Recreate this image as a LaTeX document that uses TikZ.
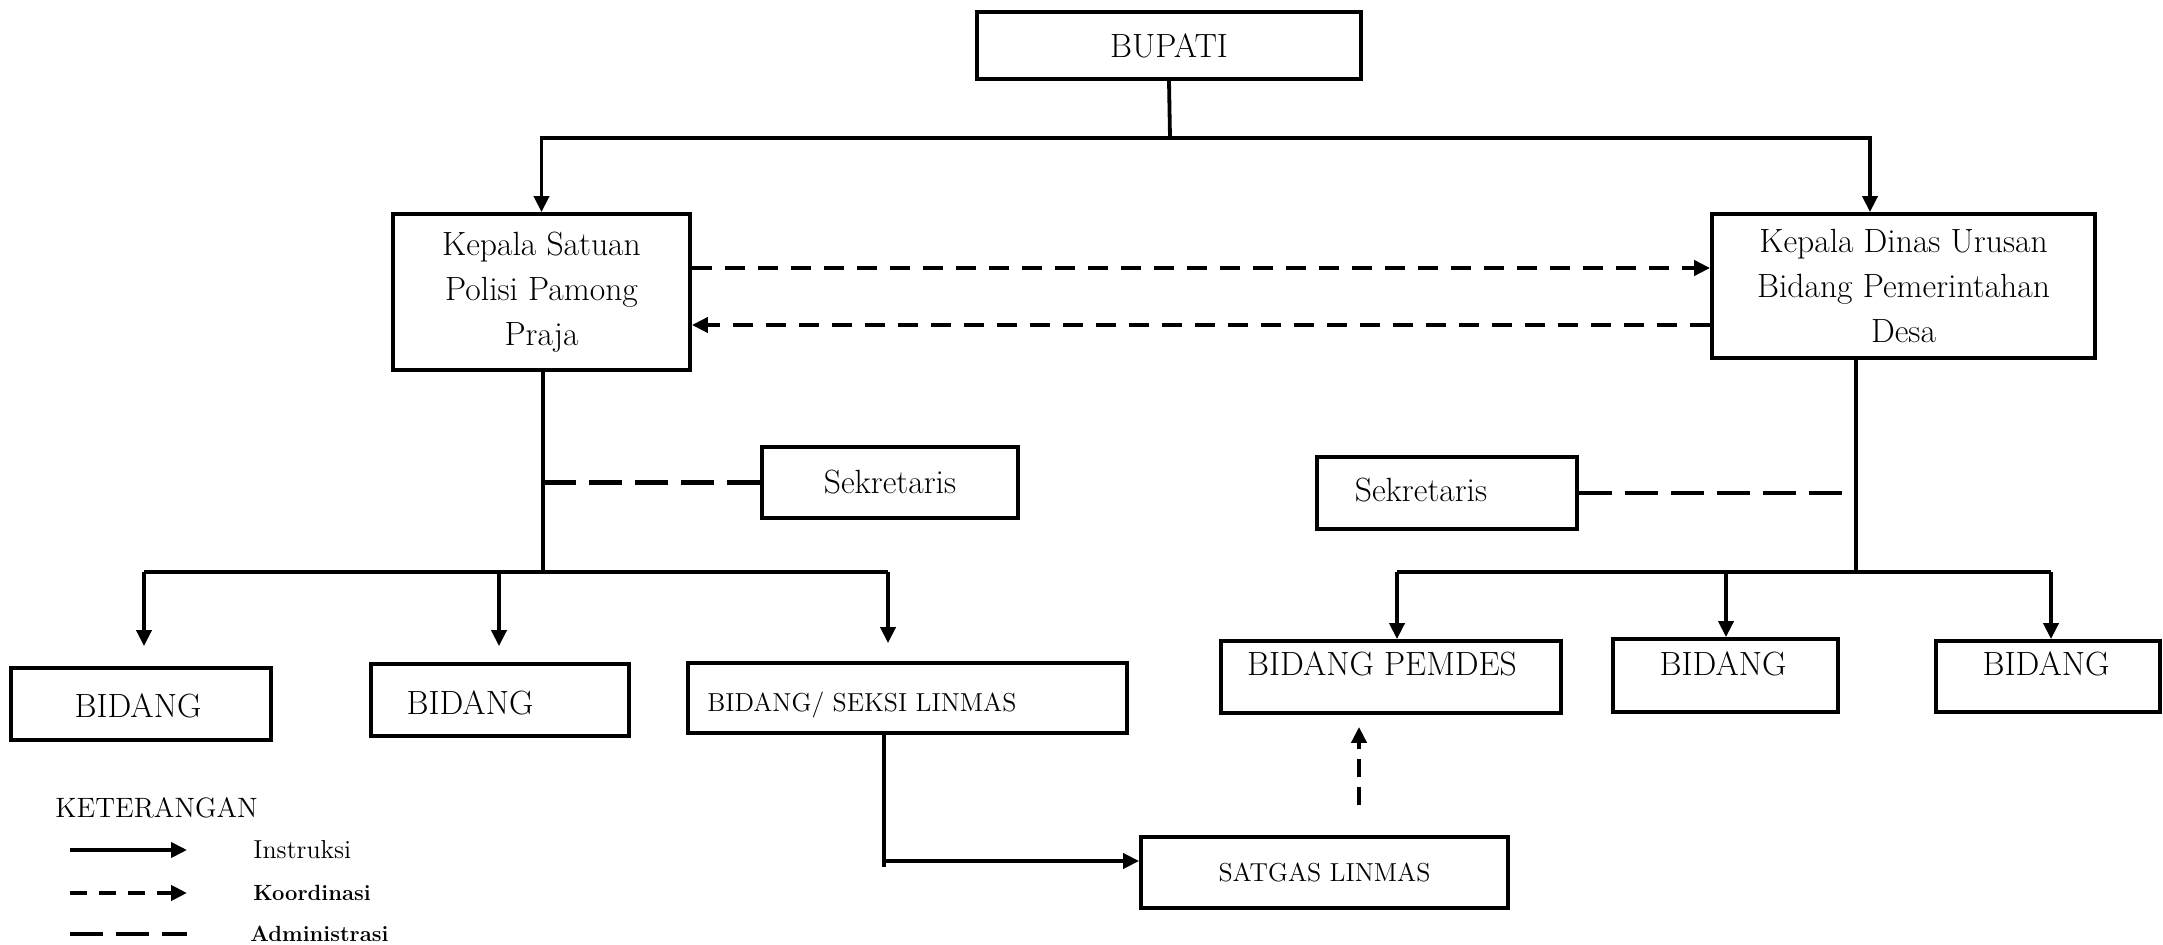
\documentclass[tikz,border=0pt]{standalone}
\usepackage{tikz}
\usetikzlibrary{positioning}
\usetikzlibrary{arrows.meta}

\tikzset{
  box/.style={draw, line width=1.9pt, inner sep=0pt},
  teks/.style={inner sep=0pt},
  big/.style={font=\fontsize{16.8}{22.5}\selectfont},
  small/.style={font=\fontsize{13}{15}\selectfont},
  solidline/.style={line width=1.9pt},
  instr/.style={line width=1.9pt, -{Triangle[length=8pt,width=7.5pt]}},
  koord/.style={line width=2.4pt, dash pattern=on 10pt off 6.5pt, -{Triangle[length=8pt,width=7.5pt]}},
  admin/.style={line width=2.2pt, dash pattern=on 16.5pt off 6.5pt},
}

\begin{document}
\begin{tikzpicture}[x=0.5pt, y=-0.5pt]
  \useasboundingbox (0,0) rectangle (2163,945);
  % top
  \node[box, big, minimum width=192pt, minimum height=33.5pt] (bupati) at (1169,45.5) {BUPATI};
  \node[box, big, align=center, minimum width=148.5pt, minimum height=78pt] (satpol) at (541.5,292) {Kepala Satuan\\Polisi Pamong\\Praja};
  \node[box, big, align=center, minimum width=191.5pt, minimum height=72pt] (dinas) at (1903.5,286) {Kepala Dinas Urusan\\Bidang Pemerintahan\\Desa};
  \coordinate (atas) at (1170,138);
  \coordinate (atasR) at (1870,138);
  \draw[solidline] (bupati.south) -- (atas);
  \draw[instr] (atas) -| (satpol.north);
  \draw[instr] (atas) -| (atasR |- dinas.north);
  \draw[koord] (satpol.east |- 0,268) -- (dinas.west |- 0,268);
  \draw[koord] (dinas.west |- 0,325) -- (satpol.east |- 0,325);

  % left branch
  \node[box, big, minimum width=128pt, minimum height=35.5pt] (sekL) at (890,482.5) {Sekretaris};
  \node[box, minimum width=130pt, minimum height=36pt] (bidL1) at (141,704) {};
  \node[box, minimum width=129pt, minimum height=36pt] (bidL2) at (500,700) {};
  \node[box, minimum width=219.5pt, minimum height=35pt] (linmas) at (907.5,698) {};
  \node[teks, big] (bidL1-t) at (138,706) {BIDANG};
  \node[teks, big] (bidL2-t) at (470,703) {BIDANG};
  \node[teks, small, anchor=west] (linmas-t) at (707,705) {BIDANG/ SEKSI LINMAS};
  \coordinate (kiri) at (543,572);
  \coordinate (kiri1) at (144,572);
  \coordinate (kiri2) at (499,572);
  \coordinate (kiri3) at (888,572);
  \draw[solidline] (satpol.south -| kiri) -- (kiri);
  \draw[admin] (kiri |- sekL.west) -- (sekL.west);
  \draw[solidline] (kiri1) -- (kiri3);
  \draw[instr, shorten >=10pt] (kiri1) -- (kiri1 |- bidL1.north);
  \draw[instr, shorten >=8pt] (kiri2) -- (kiri2 |- bidL2.north);
  \draw[instr, shorten >=9pt] (kiri3) -- (kiri3 |- linmas.north);

  % satgas
  \node[box, small, minimum width=183.5pt, minimum height=35.5pt] (satgas) at (1324.5,872.5) {SATGAS LINMAS};
  \coordinate (belok) at (884,861);
  \draw[solidline] (linmas.south -| belok) -- (884,867);
  \draw[instr] (belok) -- (satgas.west |- belok);

  % right branch
  \node[box, minimum width=130pt, minimum height=36pt] (sekR) at (1447,493) {};
  \node[box, minimum width=170pt, minimum height=36pt] (pemdes) at (1391,677) {};
  \node[box, minimum width=112.5pt, minimum height=36.5pt] (bidR2) at (1725.5,675.5) {};
  \node[box, minimum width=112pt, minimum height=35.5pt] (bidR3) at (2048,676.5) {};
  \node[teks, big] (sekR-t) at (1421,490) {Sekretaris};
  \node[teks, big] (pemdes-t) at (1382,664) {BIDANG PEMDES};
  \node[teks, big] (bidR2-t) at (1723,664) {BIDANG};
  \node[teks, big] (bidR3-t) at (2046,664) {BIDANG};
  \coordinate (kanan) at (1856,572);
  \coordinate (kanan1) at (1397,572);
  \coordinate (kanan2) at (1726,572);
  \coordinate (kanan3) at (2051,572);
  \coordinate (sekR-e) at (1845,493);
  \draw[solidline] (dinas.south -| kanan) -- (kanan);
  \draw[admin] (sekR.east) -- (sekR-e);
  \draw[solidline] (kanan1) -- (kanan3);
  \draw[instr] (kanan1) -- (kanan1 |- pemdes.north);
  \draw[instr] (kanan2) -- (kanan2 |- bidR2.north);
  \draw[instr] (kanan3) -- (kanan3 |- bidR3.north);
  \draw[koord, line width=2.2pt, dash pattern=on 9pt off 5pt, shorten <=15pt, shorten >=6pt] (satgas.north -| 1359,0) -- (pemdes.south -| 1359,0);

  % legend
  \node[teks, anchor=west, font=\fontsize{14}{16}\selectfont] (ket) at (55,808) {KETERANGAN};
  \coordinate (k1a) at (70,850);
  \coordinate (k1b) at (187,850);
  \coordinate (k2a) at (70,893);
  \coordinate (k2b) at (187,893);
  \coordinate (k3a) at (70,934);
  \coordinate (k3b) at (187,934);
  \draw[instr] (k1a) -- (k1b);
  \draw[koord, dash pattern=on 8.5pt off 6pt] (k2a) -- (k2b);
  \draw[admin] (k3a) -- (k3b);
  \node[teks, anchor=west, font=\fontsize{13}{15}\selectfont] (instruksi) at (253,850) {Instruksi};
  \node[teks, anchor=west, font=\fontsize{11}{13}\selectfont\bfseries] (koordinasi) at (253,893) {Koordinasi};
  \node[teks, anchor=west, font=\fontsize{11}{13}\selectfont\bfseries] (administrasi) at (250,934) {Administrasi};
\end{tikzpicture}
\end{document}
